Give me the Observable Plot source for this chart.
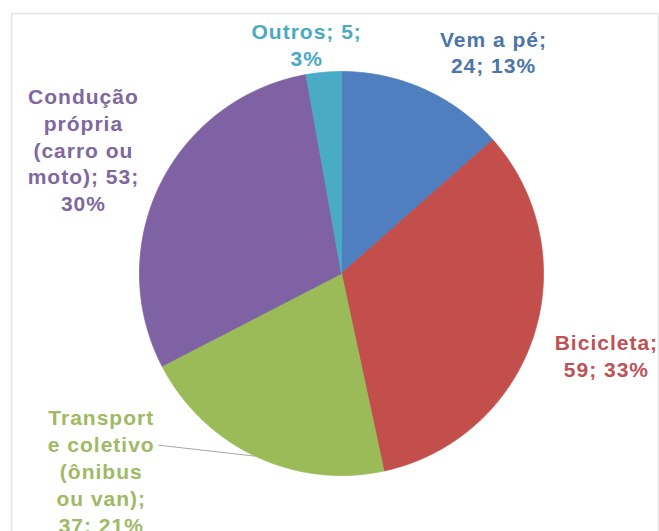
<!DOCTYPE html>
<html>
<head>
<meta charset="utf-8">
<script src="https://cdn.jsdelivr.net/npm/d3@7"></script>
<script src="https://cdn.jsdelivr.net/npm/@observablehq/plot@0.6"></script>
<style>
  html, body { margin: 0; padding: 0; background: #ffffff; }
  #chart svg { display: block; }
  #chart svg text { letter-spacing: 1px; }
</style>
</head>
<body>
<div id="chart"></div>
<script>
// ---- data ----
const categories = ["Vem a pé", "Bicicleta", "Transporte coletivo (ônibus ou van)", "Condução própria (carro ou moto)", "Outros"];
const values = [24, 59, 37, 53, 5];
const labels = [
  "Vem a pé;\n24; 13%",
  "Bicicleta;\n59; 33%",
  "Transport\ne coletivo\n(ônibus\nou van);\n37; 21%",
  "Condução\nprópria\n(carro ou\nmoto); 53;\n30%",
  "Outros; 5;\n3%"
];

// ---- styles ----
const sliceColors = ["#4f7fbe", "#c24f4c", "#9bbb59", "#7f62a3", "#4aabc6"];
const textColors  = ["#4b75ab", "#bd5257", "#a0b965", "#7f679f", "#4aaac4"];
// label nudges (pixels) from the slice's outer edge at its middle angle
const labelNudge = [[69, -38], [73, 18], [-154, 14], [-77, -35], [-17, -28]];
const W = 659, H = 531;
const cx = 341, cy = 273, R = 202;

// ---- geometry from data ----
const total = d3.sum(values);
const arcs = d3.pie().sort(null).value(d => d)(values);
const poly = [];
arcs.forEach((a, i) => {
  poly.push({cat: categories[i], x: 0, y: 0});
  const n = Math.max(4, Math.ceil((a.endAngle - a.startAngle) / 0.005));
  for (let k = 0; k <= n; k++) {
    const t = a.startAngle + (a.endAngle - a.startAngle) * k / n;
    poly.push({cat: categories[i], x: Math.sin(t), y: Math.cos(t)});
  }
  poly.push({cat: categories[i], x: 0, y: 0});
});
const mids = arcs.map((a, i) => {
  const m = (a.startAngle + a.endAngle) / 2;
  return {i, x: Math.sin(m), y: Math.cos(m)};
});
// leader line for the "Transporte coletivo" label
const tIdx = 2;
const leader = [{
  x1: mids[tIdx].x, y1: mids[tIdx].y,
  x2: mids[tIdx].x - 97 / R, y2: mids[tIdx].y + 11 / R
}];

const marks = [
  Plot.frame({stroke: "#e4e4e4", strokeWidth: 1.5}),
  Plot.link(leader, {x1: "x1", y1: "y1", x2: "x2", y2: "y2", stroke: "#a6a6a6", strokeWidth: 1}),
  Plot.line(poly, {x: "x", y: "y", z: "cat", fill: "cat", stroke: "cat", strokeWidth: 0.8, curve: "linear"})
];
mids.forEach((m, i) => {
  marks.push(Plot.text([m], {
    x: "x", y: "y", text: () => labels[i],
    dx: labelNudge[i][0], dy: labelNudge[i][1],
    fill: textColors[i], fontSize: 21, fontWeight: "bold",
    fontFamily: "Liberation Sans, Arial, sans-serif",
    lineHeight: 1.28, textAnchor: "middle"
  }));
});

const chart = Plot.plot({
  width: W, height: H,
  marginLeft: 11, marginTop: 13, marginRight: 1, marginBottom: -3,
  x: {domain: [-1, 1], range: [cx - R, cx + R], axis: null},
  y: {domain: [-1, 1], range: [cy + R, cy - R], axis: null},
  color: {type: "ordinal", domain: categories, range: sliceColors},
  style: {background: "#ffffff", overflow: "visible"},
  marks
});
document.getElementById("chart").appendChild(chart);
</script>
</body>
</html>
